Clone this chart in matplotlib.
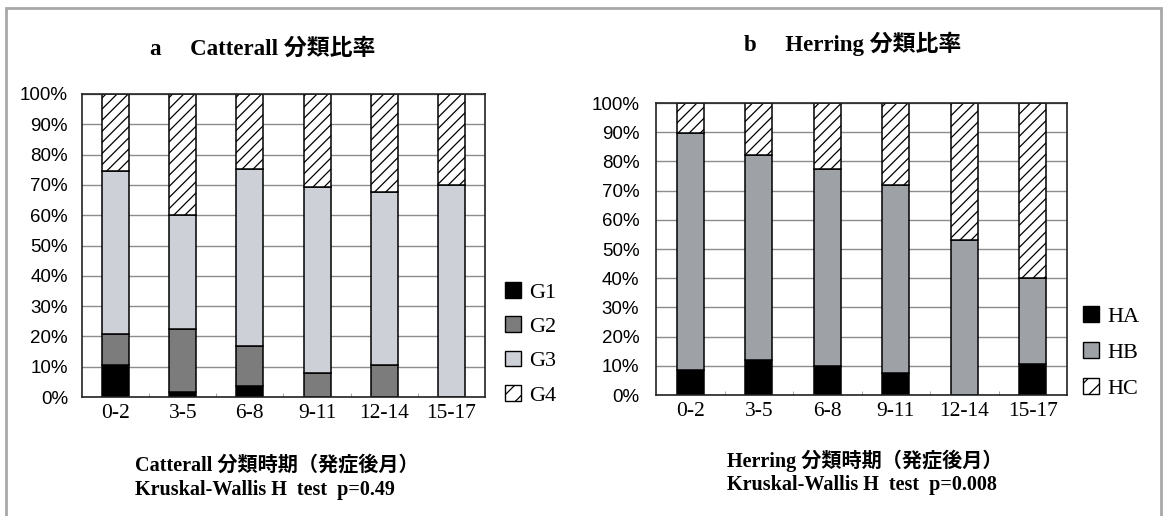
import matplotlib
matplotlib.use("Agg")
import matplotlib.pyplot as plt
from matplotlib.patches import Patch, Rectangle
import numpy as np

categories = ["0-2", "3-5", "6-8", "9-11", "12-14", "15-17"]

# Catterall classification (percent)
g1 = [10.7, 1.7, 3.5, 0.0, 0.0, 0.0]
g2 = [10.2, 20.7, 13.4, 8.0, 10.5, 0.0]
g3 = [53.8, 37.8, 58.3, 61.4, 57.0, 70.0]
g4 = [25.3, 39.8, 24.8, 30.6, 32.5, 30.0]
cat_labels = ["G1", "G2", "G3", "G4"]

# Herring classification (percent)
ha = [8.4, 12.1, 10.0, 7.7, 0.0, 10.7]
hb = [81.3, 70.2, 67.3, 64.3, 53.1, 29.3]
hc = [10.3, 17.7, 22.7, 28.0, 46.9, 60.0]
her_labels = ["HA", "HB", "HC"]

yticks = [0, 10, 20, 30, 40, 50, 60, 70, 80, 90, 100]
ytick_labels = [f"{v}%" for v in yticks]

title_a = "a\u3000 Catterall 分類比率"
title_b = "b\u3000 Herring 分類比率"
xlab_a = ["Catterall 分類時期（発症後月）", "Kruskal-Wallis H  test  p=0.49"]
xlab_b = ["Herring 分類時期（発症後月）", "Kruskal-Wallis H  test  p=0.008"]

serif = ["Liberation Serif", "Noto Sans CJK JP", "DejaVu Serif"]
sans = ["Liberation Sans", "DejaVu Sans"]

W, H = 1164, 516
fig = plt.figure(figsize=(W / 100, H / 100), dpi=100)
fig.patch.set_facecolor("white")

def fx(px):
    return px / W

def fy(py):
    return 1 - py / H

ax1 = fig.add_axes([fx(82), fy(397), fx(485) - fx(82), fy(94) - fy(397)])
ax2 = fig.add_axes([fx(656), fy(395), fx(1067) - fx(656), fy(103) - fy(395)])

plt.rcParams["hatch.linewidth"] = 0.9

c_g1, c_g2, c_g3 = "#000000", "#7c7c7c", "#cdd0d6"
c_ha, c_hb = "#000000", "#9ea2a7"

def setup(ax, pad_y):
    x = np.arange(len(categories))
    ax.set_xlim(-0.5, len(categories) - 0.5)
    ax.set_ylim(0, 100)
    ax.set_yticks(yticks)
    ax.set_yticklabels(ytick_labels, fontfamily=sans, fontsize=13.5)
    ax.set_xticks(x)
    ax.set_xticklabels(categories, fontfamily=serif, fontsize=15.5)
    ax.tick_params(axis="y", length=0, pad=pad_y)
    ax.tick_params(axis="x", length=0, pad=5)
    ax.set_xticks(np.arange(0.5, len(categories) - 0.5, 1), minor=True)
    ax.tick_params(axis="x", which="minor", direction="in", length=3,
                   color="#999999")
    ax.yaxis.grid(True, color="#8c8c8c", linewidth=1.0)
    ax.set_axisbelow(True)
    for s in ax.spines.values():
        s.set_color("#222222")
        s.set_linewidth(1.2)
    return x

x = setup(ax1, 10)
w = 0.4
b = np.zeros(len(categories))
ax1.bar(x, g1, w, bottom=b, color=c_g1, edgecolor="black", linewidth=1.1)
b += np.array(g1)
ax1.bar(x, g2, w, bottom=b, color=c_g2, edgecolor="black", linewidth=1.1)
b += np.array(g2)
ax1.bar(x, g3, w, bottom=b, color=c_g3, edgecolor="black", linewidth=1.1)
b += np.array(g3)
ax1.bar(x, g4, w, bottom=b, color="white", edgecolor="black", linewidth=1.1,
        hatch="///")

x = setup(ax2, 12)
b = np.zeros(len(categories))
ax2.bar(x, ha, w, bottom=b, color=c_ha, edgecolor="black", linewidth=1.1)
b += np.array(ha)
ax2.bar(x, hb, w, bottom=b, color=c_hb, edgecolor="black", linewidth=1.1)
b += np.array(hb)
ax2.bar(x, hc, w, bottom=b, color="white", edgecolor="black", linewidth=1.1,
        hatch="///")

# Legends
h1 = [Patch(facecolor=c_g1, edgecolor="black"),
      Patch(facecolor=c_g2, edgecolor="black"),
      Patch(facecolor=c_g3, edgecolor="black"),
      Patch(facecolor="white", edgecolor="black", hatch="//")]
fig.legend(h1, cat_labels, loc="upper left",
           bbox_to_anchor=(fx(505), fy(282)), frameon=False,
           prop={"family": serif, "size": 16}, handlelength=0.7,
           handleheight=0.7, handletextpad=0.4, labelspacing=0.62,
           borderpad=0, borderaxespad=0)
h2 = [Patch(facecolor=c_ha, edgecolor="black"),
      Patch(facecolor=c_hb, edgecolor="black"),
      Patch(facecolor="white", edgecolor="black", hatch="//")]
fig.legend(h2, her_labels, loc="upper left",
           bbox_to_anchor=(fx(1083), fy(306)), frameon=False,
           prop={"family": serif, "size": 16}, handlelength=0.7,
           handleheight=0.7, handletextpad=0.4, labelspacing=0.7,
           borderpad=0, borderaxespad=0)

# Titles
fig.text(fx(263), fy(49), title_a, ha="center", va="center",
         fontfamily=serif, fontweight="bold", fontsize=16.5)
fig.text(fx(853), fy(44), title_b, ha="center", va="center",
         fontfamily=serif, fontweight="bold", fontsize=16.5)

# Bottom texts
fs_b = 14.5
fig.text(fx(135), fy(466), xlab_a[0], ha="left", va="center",
         fontfamily=serif, fontweight="bold", fontsize=fs_b)
fig.text(fx(135), fy(490), xlab_a[1], ha="left", va="center",
         fontfamily=serif, fontweight="bold", fontsize=fs_b)
fig.text(fx(727), fy(461), xlab_b[0], ha="left", va="center",
         fontfamily=serif, fontweight="bold", fontsize=fs_b)
fig.text(fx(727), fy(485), xlab_b[1], ha="left", va="center",
         fontfamily=serif, fontweight="bold", fontsize=fs_b)

# Outer frame
fig.patches.append(Rectangle((fx(6), fy(530)), fx(1161) - fx(6),
                             fy(8) - fy(530), transform=fig.transFigure,
                             fill=False, edgecolor="#a8a8a8", linewidth=2,
                             clip_on=False))

fig.savefig("out.png", dpi=100, facecolor="white")
